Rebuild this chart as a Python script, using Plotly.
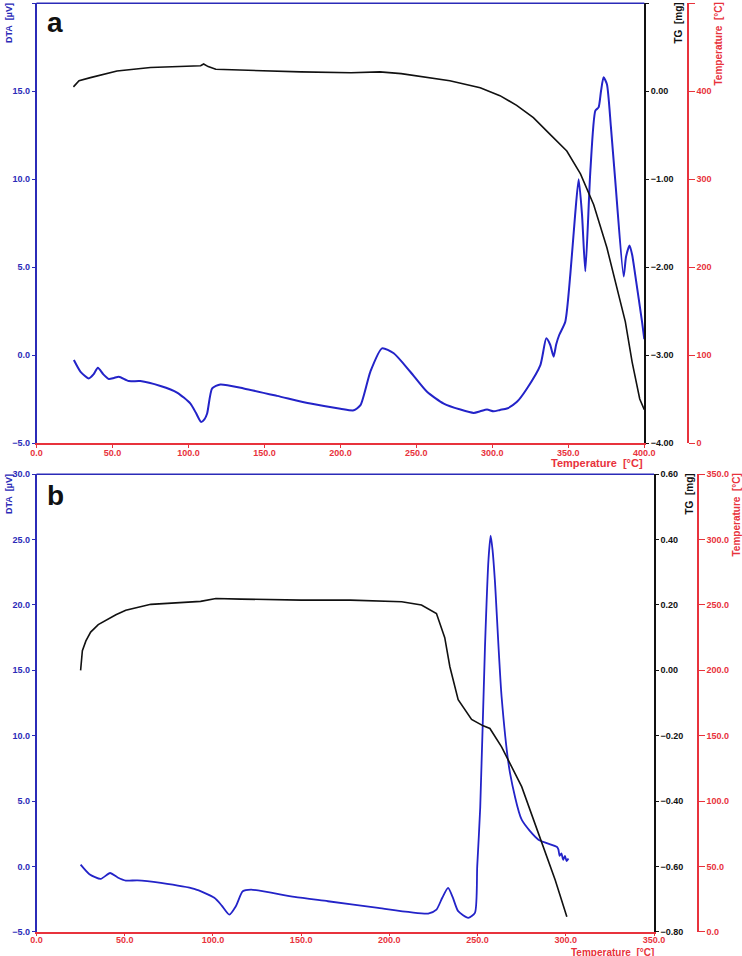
import plotly.graph_objects as go

# ---------------- Panel a data ----------------
a_dta_T = [24.6, 29, 34.4, 37.5, 40.4, 44, 47.6, 51, 54.2, 60.7, 68.4, 81.6, 92.5, 101.3, 105, 108.3,
           110.5, 112.3, 115.6, 121, 136.4, 158.3, 180.3, 200, 208.8, 213.2, 219.7, 227.4, 235.1, 246,
           257, 268, 279, 287.7, 292, 296.5, 300.8, 305, 309.6, 316.2, 322.8, 331.6, 335.5, 338, 340.3,
           342, 344, 348, 351.3, 354.5, 356.8, 359, 361.2, 364.5, 367.8, 369.9, 371.5, 373.2, 375.4,
           378, 380.9, 386.4, 388, 390.3, 392, 394, 398.5, 400]
a_dta_V = [-0.28, -0.95, -1.33, -1.1, -0.72, -1.1, -1.36, -1.3, -1.23, -1.48, -1.48, -1.76, -2.13, -2.76,
           -3.3, -3.8, -3.65, -3.32, -1.9, -1.67, -1.9, -2.32, -2.76, -3.05, -3.14, -2.85, -0.95, 0.38,
           0.10, -0.95, -2.09, -2.76, -3.10, -3.29, -3.2, -3.10, -3.2, -3.12, -3.04, -2.66, -1.90, -0.57,
           0.95, 0.6, -0.09, 0.6, 1.14, 1.9, 4.57, 8.0, 10.0, 8.0, 4.76, 10.47, 13.9, 14.08, 15.0, 15.79,
           15.4, 13.0, 9.9, 4.47, 5.6, 6.23, 5.7, 4.57, 1.9, 0.9]

a_tg_T = [24.3, 28, 35.5, 45, 53, 75, 95, 108, 110, 113, 118, 141, 174, 207, 226, 240, 256, 272, 292,
          305, 316, 327, 338, 349, 358, 366.7, 375.4, 382, 387.5, 392, 397, 400]
a_tg_V = [0.05, 0.12, 0.155, 0.20, 0.23, 0.27, 0.28, 0.29, 0.31, 0.28, 0.25, 0.235, 0.22, 0.21, 0.22,
          0.20, 0.16, 0.12, 0.04, -0.05, -0.16, -0.30, -0.49, -0.68, -0.94, -1.29, -1.78, -2.24, -2.62,
          -3.08, -3.5, -3.62]

# ---------------- Panel b data ----------------
b_dta_T = [25, 30, 36.4, 41.7, 46, 50.6, 57.2, 70.5, 89.4, 100.8, 105, 109.3, 113, 116.9, 121.6, 146.2,
           165.2, 193.6, 222, 226.7, 230, 233.3, 236, 239, 244.7, 248.5, 249.8, 251.5, 254.2, 256.2,
           257.4, 258.5, 259.8, 263.6, 268.4, 275, 284.5, 294.9, 295.8, 296.5, 297.5, 298.5, 299.5,
           300.5, 301.5]
b_dta_V = [0.13, -0.6, -0.96, -0.51, -0.85, -1.09, -1.07, -1.27, -1.73, -2.41, -3.0, -3.69, -3.05,
           -1.91, -1.78, -2.34, -2.67, -3.18, -3.61, -3.31, -2.4, -1.65, -2.4, -3.43, -3.94, -3.56, 0.0,
           4.5, 16.8, 23.5, 25.3, 24.2, 21.9, 13.0, 7.13, 3.57, 2.04, 1.5, 1.3, 0.8, 1.0, 0.5, 0.8, 0.4, 0.6]

b_tg_T = [25, 26, 28, 30.7, 35, 39, 45, 50.6, 64.8, 93, 101.7, 116, 150, 178, 207, 218.2, 226.7, 231.4,
          234.3, 239, 246.6, 253.2, 257, 263.6, 275, 284.5, 294, 300.6]
b_tg_V = [0.0, 0.06, 0.09, 0.117, 0.14, 0.153, 0.17, 0.184, 0.202, 0.211, 0.22, 0.218, 0.215, 0.215,
          0.21, 0.2, 0.174, 0.10, 0.011, -0.09, -0.15, -0.17, -0.178, -0.234, -0.356, -0.499, -0.642,
          -0.754]

W, H = 742, 956
BLUE = "#2323c8"
AXBLUE = "#2b2bb8"
RED = "#e8323c"
BLACK = "#111111"
FONT = "Liberation Sans"


def px_x(p):
    return p / W


def px_y(p):
    return 1 - p / H


fig = go.Figure()
fig.add_trace(go.Scatter(x=a_tg_T, y=a_tg_V, xaxis="x", yaxis="y2", mode="lines",
                         line=dict(color=BLACK, width=1.6), showlegend=False))
fig.add_trace(go.Scatter(x=a_dta_T, y=a_dta_V, xaxis="x", yaxis="y", mode="lines",
                         line=dict(color=BLUE, width=2, shape="spline", smoothing=0.6), showlegend=False))
fig.add_trace(go.Scatter(x=[], y=[], xaxis="x", yaxis="y3", showlegend=False))

fig.add_trace(go.Scatter(x=b_tg_T, y=b_tg_V, xaxis="x2", yaxis="y5", mode="lines",
                         line=dict(color=BLACK, width=1.6), showlegend=False))
fig.add_trace(go.Scatter(x=b_dta_T, y=b_dta_V, xaxis="x2", yaxis="y4", mode="lines",
                         line=dict(color=BLUE, width=1.8, shape="spline", smoothing=0.6), showlegend=False))
fig.add_trace(go.Scatter(x=[], y=[], xaxis="x2", yaxis="y6", showlegend=False))


def tf(color):
    return dict(family=FONT, size=9, color=color, weight="bold")


common = dict(showgrid=False, zeroline=False, showline=True, ticks="outside", automargin=False)

dom_a = [px_y(443), px_y(3.3)]
dom_b = [px_y(931.7), px_y(474.3)]

fig.update_layout(
    width=W, height=H, template="none",
    paper_bgcolor="white", plot_bgcolor="white",
    margin=dict(l=0, r=0, t=0, b=0), showlegend=False,
    xaxis=dict(domain=[px_x(36.5), px_x(644.3)], anchor="y", range=[0, 400], dtick=50, tick0=0,
               tickformat=".1f", linecolor=RED, linewidth=1.5, tickcolor=RED, ticklen=3,
               ticklabelstandoff=-3, tickfont=tf(RED), **common),
    yaxis=dict(domain=dom_a, anchor="x", range=[-5, 20], dtick=5, tick0=0, tickformat=".1f",
               linecolor=AXBLUE, linewidth=1.5, tickcolor=AXBLUE, ticklen=3, tickfont=tf(AXBLUE), **common),
    yaxis2=dict(overlaying="y", anchor="x", side="right", range=[-4, 1], dtick=1, tick0=0,
                tickformat=".2f", linecolor=BLACK, linewidth=1.5, tickcolor=BLACK, ticklen=3,
                tickfont=tf(BLACK), **common),
    yaxis3=dict(overlaying="y", anchor="free", position=px_x(688), side="right", range=[0, 500],
                dtick=100, tick0=0, tickformat="d", linecolor=RED, linewidth=1.5, tickcolor=RED,
                ticklen=6, tickfont=tf(RED), **common),
    xaxis2=dict(domain=[px_x(36.5), px_x(654)], anchor="y4", range=[0, 350], dtick=50, tick0=0,
                tickformat=".1f", linecolor=RED, linewidth=1.5, tickcolor=RED, ticklen=3,
                ticklabelstandoff=-4, tickfont=tf(RED), **common),
    yaxis4=dict(domain=dom_b, anchor="x2", range=[-5, 30], dtick=5, tick0=0, tickformat=".1f",
                linecolor=AXBLUE, linewidth=1.5, tickcolor=AXBLUE, ticklen=3, tickfont=tf(AXBLUE), **common),
    yaxis5=dict(overlaying="y4", anchor="x2", side="right", range=[-0.8, 0.6], dtick=0.2, tick0=0,
                tickformat=".2f", linecolor=BLACK, linewidth=1.5, tickcolor=BLACK, ticklen=3,
                tickfont=tf(BLACK), **common),
    yaxis6=dict(overlaying="y4", anchor="free", position=px_x(698), side="right", range=[0, 350],
                dtick=50, tick0=0, tickformat=".1f", linecolor=RED, linewidth=1.5, tickcolor=RED,
                ticklen=6, tickfont=tf(RED), **common),
)

# top border lines
for xr, yr in (("x", "y"), ("x2", "y4")):
    fig.add_shape(type="line", xref=f"{xr} domain", yref=f"{yr} domain", x0=0, x1=1, y0=1, y1=1,
                  line=dict(color=AXBLUE, width=1.5))

ann = []


def label(text, x, y, color, size=9, angle=0, xanchor="center", yanchor="top", pad=1):
    ann.append(dict(text=text, x=px_x(x), y=px_y(y), xref="paper", yref="paper", showarrow=False,
                    textangle=angle, xanchor=xanchor, yanchor=yanchor, borderpad=pad,
                    font=dict(family=FONT, size=size, color=color, weight="bold")))


# panel a
label("DTA\u00a0 [µV]", 9, 1, AXBLUE, 9, -90)
label("TG\u00a0 [mg]", 678, 1, BLACK, 10, -90)
label("Temperature\u00a0 [°C]", 718, 1, RED, 10, -90)
label("Temperature\u00a0 [°C]", 645, 455, RED, 11, 0, xanchor="right")
label("a", 45, 5, BLACK, 28, 0, xanchor="left")
# panel b
label("DTA\u00a0 [µV]", 9, 472, AXBLUE, 9, -90)
label("TG\u00a0 [mg]", 689, 472, BLACK, 10, -90)
label("Temperature\u00a0 [°C]", 736, 472, RED, 10, -90)
label("Temperature\u00a0 [°C]", 655, 958.5, RED, 10, 0, xanchor="right", yanchor="bottom", pad=0)
label("b", 45, 478, BLACK, 28, 0, xanchor="left")

fig.update_layout(annotations=ann)
fig.write_html("out.html", config={"displayModeBar": False},
               post_script="document.body.style.margin='0';")
